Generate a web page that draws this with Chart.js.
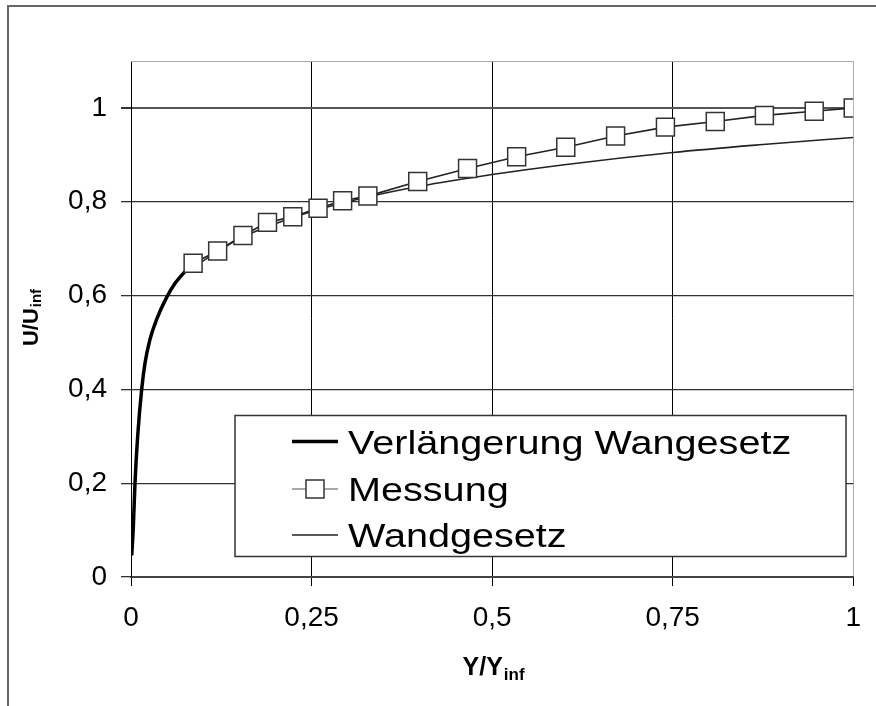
<!DOCTYPE html>
<html><head><meta charset="utf-8">
<script src="https://cdn.jsdelivr.net/npm/chart.js@4.4.1/dist/chart.umd.min.js"></script>
<style>html,body{margin:0;padding:0;background:#fff;}canvas{display:block;}</style>
</head><body>
<canvas id="c" width="876" height="706"></canvas>
<script>
// ---- data ----
const seriesNames = ['Verlängerung Wangesetz', 'Messung', 'Wandgesetz'];
const extX  = [0.001, 0.0032, 0.0055, 0.0092, 0.0148, 0.0193, 0.026, 0.0355, 0.049, 0.061, 0.0746, 0.086];
const extY  = [0.046, 0.106, 0.199, 0.299, 0.400, 0.455, 0.505, 0.549, 0.595, 0.626, 0.651, 0.669];
const messX = [0.086, 0.120, 0.155, 0.189, 0.224, 0.259, 0.293, 0.328, 0.397, 0.466, 0.534, 0.602, 0.671, 0.740, 0.809, 0.877, 0.946, 1.000];
const messY = [0.669, 0.695, 0.728, 0.756, 0.768, 0.786, 0.802, 0.812, 0.843, 0.871, 0.896, 0.916, 0.940, 0.959, 0.971, 0.984, 0.993, 1.000];
const wallX = [0.086, 0.15, 0.25, 0.33, 0.40, 0.50, 0.60, 0.75, 0.875, 1.00];
const wallY = [0.660, 0.721, 0.779, 0.811, 0.833, 0.858, 0.879, 0.905, 0.922, 0.937];
const xTicks = [0, 0.25, 0.5, 0.75, 1];
const yTicks = [0, 0.2, 0.4, 0.6, 0.8, 1];
const xTitle = ['Y/Y', 'inf'];
const yTitle = ['U/U', 'inf'];

const pts = (xs, ys) => xs.map((x, i) => ({x: x, y: ys[i]}));
const fmt = v => String(Number(v.toFixed(2))).replace('.', ',');
const FONT = '"Liberation Sans", Arial, sans-serif';

const framePlugin = {
  id: 'frame',
  beforeDraw(chart) {
    const ctx = chart.ctx;
    ctx.save();
    ctx.fillStyle = '#fff';
    ctx.fillRect(0, 0, chart.width, chart.height);
    ctx.strokeStyle = '#666';
    ctx.lineWidth = 2;
    ctx.beginPath();
    ctx.moveTo(8, chart.height + 2);
    ctx.lineTo(8, 6);
    ctx.lineTo(chart.width + 2, 6);
    ctx.stroke();
    ctx.restore();
  },
  beforeDatasetsDraw(chart) {
    const ctx = chart.ctx, a = chart.chartArea;
    ctx.save();
    ctx.strokeStyle = '#aaa';
    ctx.lineWidth = 1;
    ctx.beginPath();
    ctx.moveTo(a.left, a.top + 0.5);
    ctx.lineTo(a.right, a.top + 0.5);
    ctx.stroke();
    ctx.restore();
  }
};

const titlePlugin = {
  id: 'titles',
  afterDraw(chart) {
    const ctx = chart.ctx, a = chart.chartArea;
    ctx.save();
    ctx.fillStyle = '#000';
    ctx.textBaseline = 'alphabetic';
    ctx.textAlign = 'left';
    // x title
    ctx.font = 'bold 25px ' + FONT;
    const w1 = ctx.measureText(xTitle[0]).width;
    ctx.font = 'bold 17px ' + FONT;
    const w2 = ctx.measureText(xTitle[1]).width;
    const cx = (a.left + a.right) / 2 + 1;
    let sx = cx - (w1 + w2) / 2;
    ctx.font = 'bold 25px ' + FONT;
    ctx.fillText(xTitle[0], sx, 675);
    ctx.font = 'bold 17px ' + FONT;
    ctx.fillText(xTitle[1], sx + w1 + 1, 680);
    // y title
    ctx.translate(38, (a.top + a.bottom) / 2 - 1);
    ctx.rotate(-Math.PI / 2);
    ctx.font = 'bold 22px ' + FONT;
    const v1 = ctx.measureText(yTitle[0]).width;
    ctx.font = 'bold 15px ' + FONT;
    const v2 = ctx.measureText(yTitle[1]).width;
    const sy = -(v1 + v2) / 2;
    ctx.font = 'bold 22px ' + FONT;
    ctx.fillText(yTitle[0], sy, 0);
    ctx.font = 'bold 15px ' + FONT;
    ctx.fillText(yTitle[1], sy + v1 + 1, 3);
    ctx.restore();
  }
};

const legendPlugin = {
  id: 'boxLegend',
  afterDraw(chart) {
    const ctx = chart.ctx;
    const L = 235, T = 415.5, R = 846, B = 556.5;
    ctx.save();
    ctx.fillStyle = '#fff';
    ctx.fillRect(L, T, R - L, B - T);
    ctx.strokeStyle = '#333';
    ctx.lineWidth = 1.5;
    ctx.strokeRect(L, T, R - L, B - T);
    const rows = [441.5, 489, 535];
    chart.data.datasets.forEach((ds, i) => {
      const y = rows[i];
      ctx.strokeStyle = i === 1 ? '#555' : ds.borderColor;
      ctx.lineWidth = i === 1 ? 1.2 : ds.borderWidth;
      ctx.beginPath();
      ctx.moveTo(292, y);
      ctx.lineTo(338, y);
      ctx.stroke();
      if (i === 1) {
        ctx.fillStyle = '#fff';
        ctx.fillRect(306, y - 9, 18, 18);
        ctx.strokeStyle = '#333';
        ctx.lineWidth = 1.5;
        ctx.strokeRect(306, y - 9, 18, 18);
      }
      ctx.save();
      ctx.translate(348, y + 12);
      ctx.scale(1.2, 1);
      ctx.fillStyle = '#000';
      ctx.font = '33px ' + FONT;
      ctx.textBaseline = 'alphabetic';
      ctx.fillText(ds.label, 0, 0);
      ctx.restore();
    });
    ctx.restore();
  }
};

new Chart(document.getElementById('c'), {
  type: 'scatter',
  data: {
    datasets: [
      {label: seriesNames[0], data: pts(extX, extY), showLine: true, borderColor: '#000', borderWidth: 3.5,
       pointRadius: 0, cubicInterpolationMode: 'monotone', order: 1},
      {label: seriesNames[1], data: pts(messX, messY), showLine: true, borderColor: '#222', borderWidth: 1.6,
       pointStyle: 'rect', pointRadius: 12.7, pointBackgroundColor: '#fff', pointBorderColor: '#333',
       pointBorderWidth: 1.5, order: 0},
      {label: seriesNames[2], data: pts(wallX, wallY), showLine: true, borderColor: '#222', borderWidth: 1.6,
       pointRadius: 0, cubicInterpolationMode: 'monotone', order: 2}
    ]
  },
  options: {
    responsive: false,
    animation: false,
    devicePixelRatio: 1,
    layout: {padding: {top: 61, right: 22, left: 0, bottom: 0}},
    plugins: {legend: {display: false}, tooltip: {enabled: false}},
    scales: {
      x: {
        type: 'linear', min: 0, max: 1,
        afterFit: s => { s.height = 129; },
        afterBuildTicks: s => { s.ticks = xTicks.map(v => ({value: v})); },
        grid: {
          color: c => (c.tick && c.tick.value === 1) ? '#aaa' : '#000',
          lineWidth: 1, tickLength: 9, tickColor: '#000'
        },
        border: {color: '#444', width: 2},
        ticks: {font: {family: FONT, size: 28}, color: '#000', padding: 15, maxRotation: 0, callback: v => fmt(v)}
      },
      y: {
        type: 'linear', min: 0, max: 1.1,
        afterFit: s => { s.width = 131; },
        afterBuildTicks: s => { s.ticks = yTicks.map(v => ({value: v})); },
        grid: {
          color: c => (c.tick && c.tick.value === 1) ? '#555' : '#333',
          lineWidth: c => (c.tick && c.tick.value === 1) ? 2 : 1.3,
          tickLength: 10, tickColor: '#333'
        },
        border: {color: '#000', width: 1},
        ticks: {font: {family: FONT, size: 28}, color: '#000', padding: 14, callback: v => fmt(v)}
      }
    }
  },
  plugins: [framePlugin, titlePlugin, legendPlugin]
});
</script>
</body></html>
